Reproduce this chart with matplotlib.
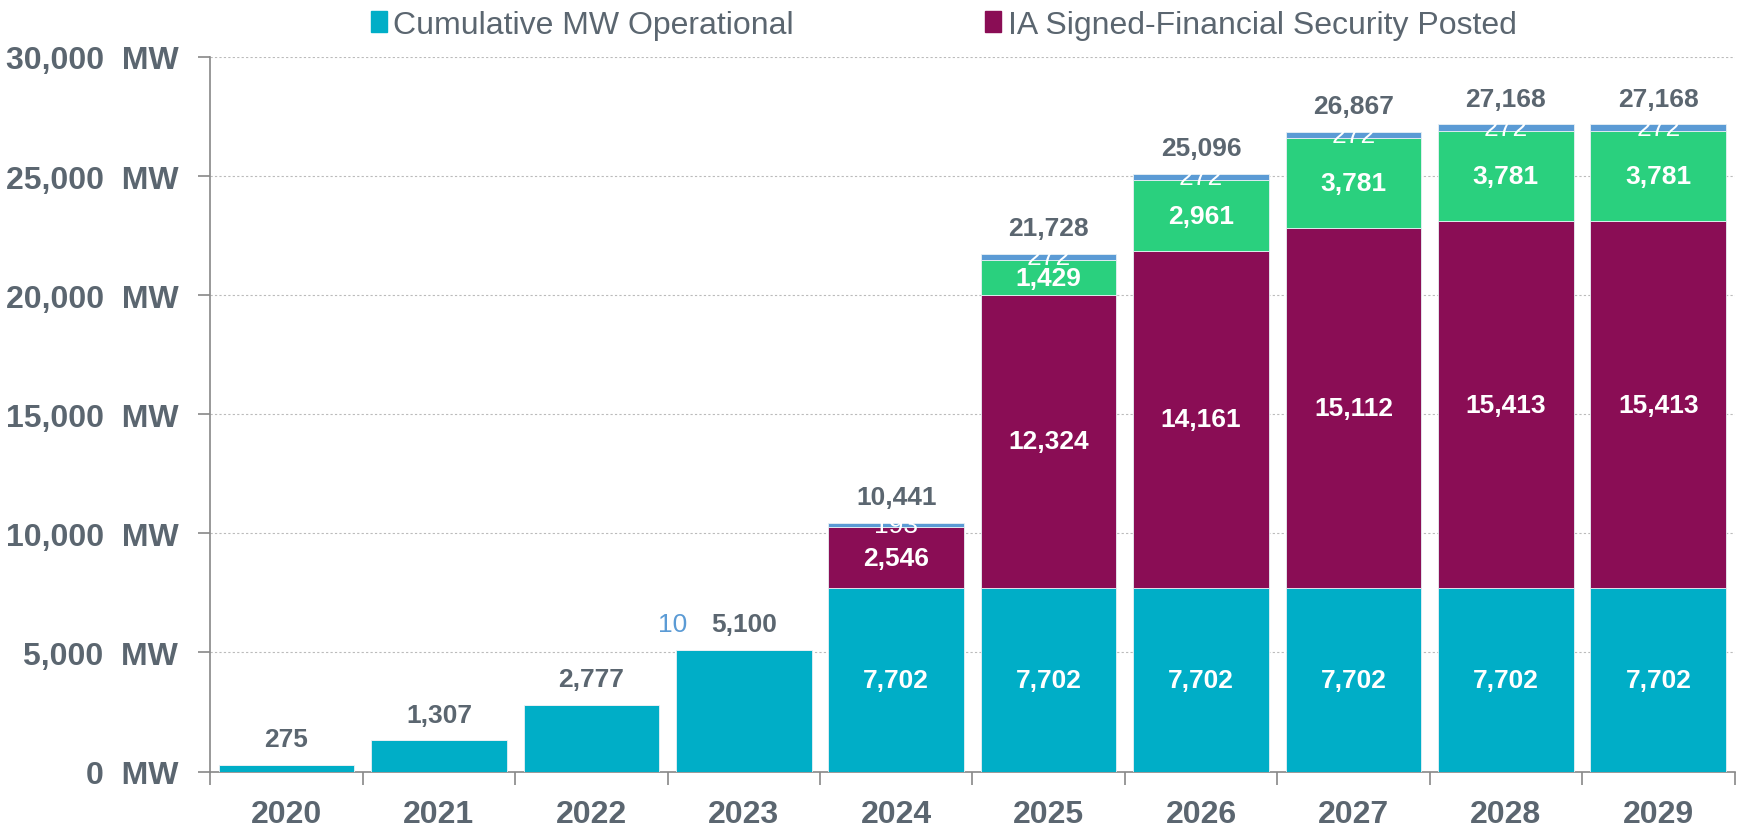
import matplotlib
matplotlib.use("Agg")
import matplotlib.pyplot as plt
import numpy as np
from matplotlib.patches import Patch
from matplotlib.ticker import FuncFormatter, FixedLocator

plt.rcParams["font.family"] = ["Liberation Sans", "DejaVu Sans"]

# values
years = ["2020", "2021", "2022", "2023", "2024", "2025", "2026", "2027", "2028", "2029"]
operational = [275, 1307, 2777, 5090, 7702, 7702, 7702, 7702, 7702, 7702]
ia_signed = [0, 0, 0, 0, 2546, 12324, 14161, 15112, 15413, 15413]
green_part = [0, 0, 0, 0, 0, 1429, 2961, 3781, 3781, 3781]
blue_part = [0, 0, 0, 10, 193, 272, 272, 272, 272, 272]
totals = [275, 1307, 2777, 5100, 10441, 21728, 25096, 26867, 27168, 27168]

TEAL = "#00AEC7"
MAROON = "#8A0D55"
GREEN = "#2AD07E"
BLUE = "#5B9BD5"
GREY = "#5B6670"

fig = plt.figure(figsize=(17.38, 8.28), dpi=100)
ax = fig.add_axes([0.121, 0.067, 0.877, 0.863])

x = np.arange(len(years))
w = 0.89
ops = np.array(operational, float)
ia = np.array(ia_signed, float)
gr = np.array(green_part, float)
bl = np.array(blue_part, float)

ekw = dict(edgecolor="#E8F0F4", linewidth=0.6, zorder=3)
ax.bar(x, ops, w, color=TEAL, **ekw)
ax.bar(x, ia, w, bottom=ops, color=MAROON, **ekw)
ax.bar(x, gr, w, bottom=ops + ia, color=GREEN, **ekw)
ax.bar(x, bl, w, bottom=ops + ia + gr, color=BLUE, **ekw)

# segment labels
for i in range(len(years)):
    if i >= 4:
        ax.text(x[i], ops[i] / 2, f"{operational[i]:,}", ha="center", va="center",
                color="white", fontsize=19, fontweight="bold", zorder=5)
    if ia[i] > 0:
        ax.text(x[i], ops[i] + ia[i] / 2, f"{ia_signed[i]:,}", ha="center", va="center",
                color="white", fontsize=19, fontweight="bold", zorder=5)
    if gr[i] > 0:
        ax.text(x[i], ops[i] + ia[i] + gr[i] / 2, f"{green_part[i]:,}", ha="center",
                va="center", color="white", fontsize=19, fontweight="bold", zorder=5)
    if bl[i] > 0 and i >= 4:
        ax.text(x[i], ops[i] + ia[i] + gr[i] + bl[i] / 2, f"{blue_part[i]:,}",
                ha="center", va="center", color="white", fontsize=19, zorder=5)
    top = ops[i] + ia[i] + gr[i] + bl[i]
    ax.annotate(f"{totals[i]:,}", (x[i], top), xytext=(0, 10), textcoords="offset points",
                ha="center", va="bottom", color=GREY, fontsize=19, fontweight="bold", zorder=5)

# tiny blue value on 2023 shown to the left of the total
ax.annotate(f"{blue_part[3]:,}", (x[3] - 0.47, ops[3] + bl[3]), xytext=(0, 10),
            textcoords="offset points", ha="center", va="bottom", color=BLUE, fontsize=19,
            zorder=5)

ax.set_xlim(-0.5, len(years) - 0.5)
ax.set_ylim(0, 30000)
ax.set_yticks(np.arange(0, 30001, 5000))
ax.yaxis.set_major_formatter(FuncFormatter(lambda v, p: f"{v:,.0f}  MW"))
ax.set_xticks(x)
ax.set_xticklabels(years)
ax.xaxis.set_minor_locator(FixedLocator(np.arange(-0.5, len(years), 1.0)))

ax.tick_params(axis="x", which="major", length=0, pad=20, labelsize=23, labelcolor=GREY)
ax.tick_params(axis="x", which="minor", length=9, width=1.2, color="#888888", direction="out")
ax.tick_params(axis="y", length=9, width=1.2, color="#888888", pad=14, labelsize=23,
               labelcolor=GREY)
for lbl in ax.get_xticklabels() + ax.get_yticklabels():
    lbl.set_fontweight("bold")

for s in ["top", "right"]:
    ax.spines[s].set_visible(False)
for s in ["left", "bottom"]:
    ax.spines[s].set_color("#888888")
    ax.spines[s].set_linewidth(1.2)

ax.set_axisbelow(True)
ax.yaxis.grid(True, linestyle=(0, (2, 2)), color="#BBBBBB", linewidth=0.8)

handles = [Patch(color=TEAL, label="Cumulative MW Operational"),
           Patch(color=MAROON, label="IA Signed-Financial Security Posted")]
fig.legend(handles=handles, loc="center", bbox_to_anchor=(0.543, 0.969), ncol=2,
           frameon=False, fontsize=23, handlelength=0.5, handleheight=0.6,
           handletextpad=0.2, columnspacing=6.0, labelcolor=GREY)

fig.savefig("out.png", dpi=100)
